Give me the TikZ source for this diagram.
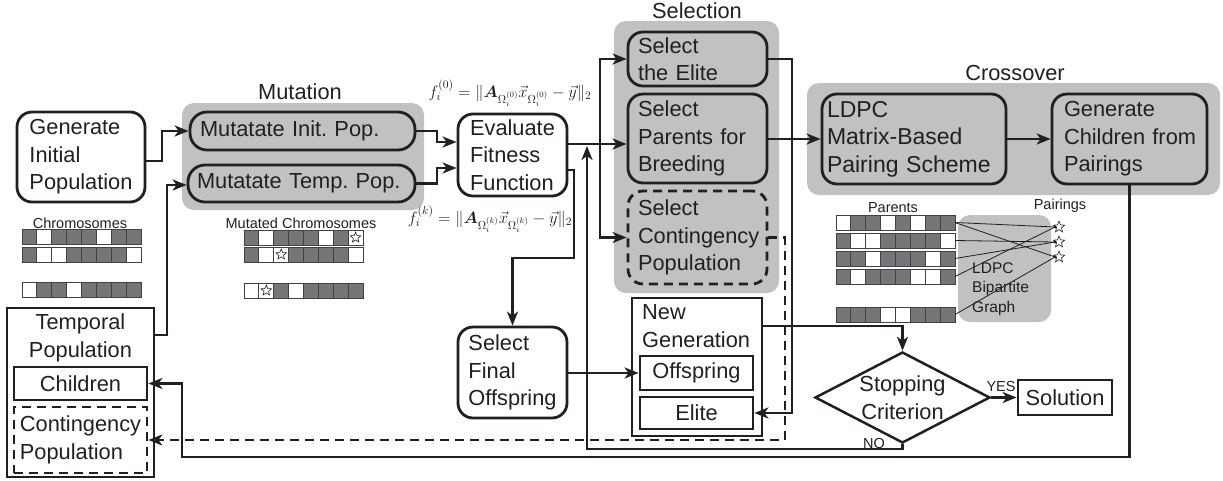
\RequirePackage{fix-cm}
\documentclass[tikz,border=0pt]{standalone}
\usepackage{fontspec}
\setmainfont{Liberation Sans}
\usepackage{bm}
\usetikzlibrary{arrows.meta,shapes.geometric}

\definecolor{ink}{RGB}{35,31,32}
\definecolor{grp}{RGB}{192,193,195}
\definecolor{cg}{RGB}{118,118,120}

% one chromosome: x, top y, list of cell colours
\newcommand\chromrow[3]{%
  \foreach \cc [count=\ci from 0] in {#3}
    {\path[cell,fill=\cc] ({#1+\ci*14.875},#2) rectangle ++(14.875,15);}}

\tikzset{
  big/.style={font=\fontsize{21.8}{27.5}\selectfont\frenchspacing},
  small/.style={font=\fontsize{14.5}{17}\selectfont},
  grpbg/.style={fill=grp, rounded corners=12pt},
  rbox/.style={big, draw=ink, line width=2.8pt, rounded corners=15pt, inner sep=2pt, align=left},
  sbox/.style={big, draw=ink, line width=2.8pt, inner sep=2pt, align=center},
  dashbox/.style={dash pattern=on 9pt off 6pt},
  wire/.style={draw=ink, line width=2.5pt},
  conn/.style={wire, -{Stealth[length=14pt,width=11pt,inset=4pt]}},
  cell/.style={draw=ink!85, line width=0.9pt},
  formula/.style={font=\fontsize{16.5}{19}\selectfont, inner sep=0pt, anchor=base},
  starmark/.style={star, star points=5, star point ratio=2.3, draw=ink, line width=0.6pt, minimum size=11pt, inner sep=0pt, fill=white},
  bip/.style={draw=ink, line width=0.8pt},
}

\begin{document}
\begin{tikzpicture}[x=1pt,y=-1pt, every node/.style={text=ink}]
\useasboundingbox (0,0) rectangle (1223,480);

% grey group backgrounds
\path[grpbg] (182,103) rectangle (424,210);
\path[grpbg] (614,21) rectangle (779,293);
\path[grpbg] (807,83) rectangle (1220,195);
\path[grpbg] (958,215) rectangle (1051,322);

% group titles
\node[big] (tmut) at (300,92) {Mutation};
\node[big] (tsel) at (697,11) {Selection};
\node[big] (tcro) at (1015,73) {Crossover};

% chromosomes
\node[small] (lchrom) at (80,223) {Chromosomes};
\chromrow{22}{229}{cg,white,cg,cg,cg,white,cg,cg}
\chromrow{22}{247}{cg,white,white,cg,cg,cg,cg,white}
\chromrow{22}{282}{white,cg,cg,white,cg,cg,cg,cg}

\node[small] (lmut) at (301,223) {Mutated Chromosomes};
\chromrow{244}{230}{cg,white,cg,cg,cg,white,cg,white}
\chromrow{244}{247}{cg,white,white,cg,cg,cg,cg,white}
\chromrow{244}{283}{white,white,cg,white,cg,cg,cg,cg}
\node[starmark] (m1) at (355.6,237.5) {};
\node[starmark] (m2) at (281.2,254.5) {};
\node[starmark] (m3) at (266.3,290.5) {};

\node[small] (lpar) at (893,208) {Parents};
\node[small] (lpair) at (1060,206) {Pairings};
\chromrow{836}{215}{white,cg,cg,white,cg,white,cg,cg}
\chromrow{836}{233}{cg,white,white,cg,cg,cg,cg,white}
\chromrow{836}{251}{cg,cg,white,cg,cg,cg,white,cg}
\chromrow{836}{269}{cg,white,cg,cg,cg,white,white,cg}
\chromrow{836}{307}{cg,cg,cg,white,white,cg,cg,cg}
\node[font=\fontsize{15.5}{19.5}\selectfont, align=left, anchor=west, inner sep=0pt] (lbip) at (972,289) {LDPC\\Bipartite\\Graph};

% pairing graph
\node[starmark, minimum size=12pt] (s1) at (1059,227) {};
\node[starmark, minimum size=12pt] (s2) at (1059,242) {};
\node[starmark, minimum size=12pt] (s3) at (1059,257) {};
\coordinate (r1) at (955,222.5);
\coordinate (r2) at (955,240.5);
\coordinate (r3) at (955,258.5);
\coordinate (r4) at (955,276.5);
\coordinate (r5) at (955,314.5);
\draw[bip] (r1) -- (s1.west);
\draw[bip] (r1) -- (s3.west);
\draw[bip] (r2) -- (s2.west);
\draw[bip] (r3) -- (s2.west);
\draw[bip] (r4) -- (s1.west);
\draw[bip] (r5) -- (s3.west);
\foreach \s in {s1,s2,s3} \fill[ink] (\s.west) circle (1.7);

% fitness formulas
\node[formula] (fz) at (510,97) {$f_i^{(0)} = \|\bm{A}_{\Omega_i^{(0)}}\vec{x}_{\Omega_i^{(0)}} - \vec{y}\|_2$};
\node[formula] (fk) at (490,223) {$f_i^{(k)} = \|\bm{A}_{\Omega_i^{(k)}}\vec{x}_{\Omega_i^{(k)}} - \vec{y}\|_2$};

% process boxes
\node[rbox, minimum width=128pt, minimum height=90pt] (gen) at (81,157) {Generate\\Initial\\Population};
\node[rbox, rounded corners=17pt, text width=205pt, inner xsep=10pt, minimum height=38pt] (mi) at (302.5,131) {Mutatate Init. Pop.};
\node[rbox, rounded corners=17pt, text width=209pt, inner xsep=9pt, minimum height=37pt] (mt) at (301.5,183.5) {Mutatate Temp. Pop.};
\node[rbox, minimum width=109pt, minimum height=82pt] (eval) at (512.5,155) {Evaluate\\Fitness\\Function};

\node[rbox, text width=119pt, inner xsep=10pt, minimum height=54pt] (selelite) at (697.5,59) {Select\\the Elite};
\node[rbox, text width=119pt, inner xsep=10pt, minimum height=89pt] (selpar) at (697.5,138.5) {Select\\Parents for\\Breeding};
\node[rbox, dashbox, text width=119pt, inner xsep=10pt, minimum height=93pt] (selcont) at (697.5,237.5) {Select\\Contingency\\Population};

\node[rbox, text width=174pt, inner xsep=5pt, minimum height=90pt, font=\fontsize{23}{27.5}\selectfont] (ldpc) at (914,139) {LDPC\\Matrix-Based\\Pairing Scheme};
\node[rbox, text width=137pt, inner xsep=9pt, minimum height=90pt] (genchild) at (1129.5,139) {\hspace*{3pt}Generate\\\hspace*{3pt}Children from\\\hspace*{3pt}Pairings};

\node[rbox, minimum width=109pt, minimum height=91pt] (selfinal) at (512.5,372.5) {Select\\Final\\Offspring};

\node[sbox, minimum width=130pt, minimum height=138pt] (newgen) at (697,367) {};
\node[big, align=left, anchor=west, inner sep=0pt] (ngtext) at (642,326) {New\\Generation};
\node[sbox, minimum width=113pt, minimum height=34pt] (offs) at (696.5,373) {Offspring};
\node[sbox, minimum width=113pt, minimum height=32pt] (elite) at (696.5,413) {Elite};

\node[sbox, minimum width=147pt, minimum height=169pt] (temp) at (80.5,392.5) {};
\node[big, align=center, inner sep=0pt] (temptext) at (80.5,338) {Temporal\\Population};
\node[sbox, minimum width=133pt, minimum height=33pt] (children) at (80.5,383.5) {Children};
\node[sbox, dashbox, align=left, minimum width=133pt, minimum height=66pt] (cont) at (80.5,440) {Contingency\\Population};

\node[big, diamond, draw=ink, line width=2.5pt, aspect=1.92, inner sep=-2pt, minimum width=175pt, minimum height=91pt, align=center] (stop) at (902.5,397.5) {Stopping\\Criterion};
\node[sbox, minimum width=94pt, minimum height=35pt] (sol) at (1065,397.5) {Solution};
\node[small] (yes) at (1001,386) {YES};
\node[small] (no) at (874,443) {NO};

% connectors
\draw[conn] (gen.east |- 0,161) -- (162,161) |- (mi.west);
\draw[conn] (temp.east |- 0,335) -- (167,335) |- (mt.west |- 0,185);
\draw[conn] (mi.east) -- (437,131) |- (eval.west |- 0,142);
\draw[conn] (mt.east) -- (437,183.5) |- (eval.west |- 0,168);

\coordinate (split) at (600,144);
\draw[wire] (eval.east |- split) -- (split);
\draw[conn] (split) -- (selpar.west |- split);
\draw[conn] (split) |- (selelite.west);
\draw[conn] (split) |- (selcont.west);

\draw[conn] (eval.east |- 0,170) -- (574,170) -- (574,258) -| (selfinal.north);
\draw[conn] (selfinal.east |- offs.west) -- (offs.west);
\draw[conn] (selelite.east) -- (792,59) |- (elite.east);
\draw[conn] (selpar.east |- ldpc.west) -- (ldpc.west);
\draw[conn] (ldpc.east) -- (genchild.west);
\draw[conn] (genchild.south) |- (182,457) |- (children.east);
\draw[conn, dashbox] (selcont.east) -- (785,237.5) |- (cont.east);
\draw[conn] (newgen.east |- 0,326) -| (stop.north);
\draw[conn] (stop.east) -- (sol.west);
\coordinate (rejoin) at (587,146);
\draw[conn] (stop.south) |- (587,449) -- (rejoin);
\end{tikzpicture}
\end{document}
